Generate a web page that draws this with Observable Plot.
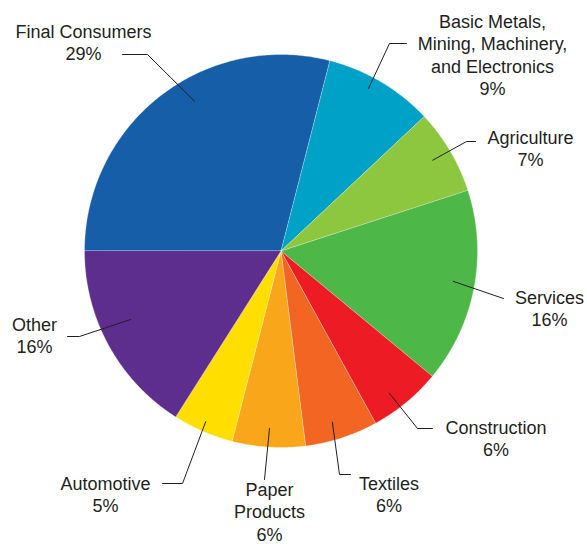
<!DOCTYPE html>
<html>
<head>
<meta charset="utf-8">
<script src="https://cdn.jsdelivr.net/npm/d3@7"></script>
<script src="https://cdn.jsdelivr.net/npm/@observablehq/plot@0.6"></script>
<style>
  html, body { margin: 0; padding: 0; background: #fff; }
  #chart svg { display: block; font-family: "Liberation Sans", Arial, Helvetica, sans-serif; }
</style>
</head>
<body>
<div id="chart"></div>
<script>
// ---- data ----
const categories = [
  "Final Consumers",
  "Basic Metals, Mining, Machinery, and Electronics",
  "Agriculture",
  "Services",
  "Construction",
  "Textiles",
  "Paper Products",
  "Automotive",
  "Other"
];
const shares = [29, 9, 7, 16, 6, 6, 6, 5, 16];
const labelLines = [
  "Final Consumers",
  "Basic Metals,\nMining, Machinery,\nand Electronics",
  "Agriculture",
  "Services",
  "Construction",
  "Textiles",
  "Paper\nProducts",
  "Automotive",
  "Other"
];
const colors = ["#175ea9", "#00a1c6", "#8dc63f", "#4db848", "#ed1c24", "#f26522", "#faa61a", "#ffde00", "#5d2e8e"];

// ---- label layout (annotation placement, in page pixels) ----
const W = 587, H = 544;
const cx = 280.5, cy = 250.5, R = 196.5;
const layout = [
  {lead: [330, 0.88],   pts: [[147, 54], [122, 54]],   text: [83, 34]},
  {lead: [28.3, 0.94],  pts: [[389, 43], [406, 43]],   text: [492, 24]},
  {lead: [59.1, 0.90],  pts: [[466, 141], [475, 141]], text: [530, 140]},
  {lead: [100, 0.89],   pts: [[503, 298]],             text: [549, 300]},
  {lead: [142.7, 0.91], pts: [[417, 428], [432, 428]], text: [495.5, 430]},
  {lead: [163.3, 0.91], pts: [[339, 474], [350, 474]], text: [388.5, 486]},
  {lead: [183.7, 0.905],pts: [[264, 479]],             text: [269, 492]},
  {lead: [203.8, 0.95], pts: [[182, 483], [162, 483]], text: [105, 486]},
  {lead: [245.5, 0.84], pts: [[79, 336], [67, 336]],   text: [34, 327]}
];
const fontSize = 18;
const toU = px => (px - cx) / R;
const toV = py => (cy - py) / R;

// ---- build pie polygons from shares ----
const arcs = d3.pie().sort(null).startAngle(-Math.PI / 2).endAngle(1.5 * Math.PI)(shares);
const slicePts = [];
arcs.forEach((a, i) => {
  const cat = categories[i];
  slicePts.push({cat, x: 0, y: 0});
  const n = Math.max(2, Math.ceil((a.endAngle - a.startAngle) / (Math.PI / 360)));
  for (let k = 0; k <= n; k++) {
    const t = a.startAngle + (a.endAngle - a.startAngle) * k / n;
    slicePts.push({cat, x: Math.sin(t), y: Math.cos(t)});
  }
});

// ---- leader lines ----
const leaderPts = [];
layout.forEach((L, i) => {
  const ang = L.lead[0] * Math.PI / 180;
  leaderPts.push({cat: categories[i], x: L.lead[1] * Math.sin(ang), y: L.lead[1] * Math.cos(ang)});
  L.pts.forEach(p => leaderPts.push({cat: categories[i], x: toU(p[0]), y: toV(p[1])}));
});

// ---- labels ----
const labels = layout.map((L, i) => ({
  text: labelLines[i] + "\n" + shares[i] + "%",
  x: toU(L.text[0]),
  y: toV(L.text[1] - 0.71 * fontSize)
}));

const chart = Plot.plot({
  width: W,
  height: H,
  marginLeft: cx - R,
  marginRight: W - (cx + R),
  marginTop: cy - R,
  marginBottom: H - (cy + R),
  x: {domain: [-1, 1], axis: null},
  y: {domain: [-1, 1], axis: null},
  color: {domain: categories, range: colors},
  marks: [
    Plot.line(slicePts, {x: "x", y: "y", z: "cat", fill: "cat", stroke: "#ffffff", strokeWidth: 0.5, strokeOpacity: 0.6, curve: "linear-closed"}),
    Plot.line(leaderPts, {x: "x", y: "y", z: "cat", stroke: "#231f20", strokeWidth: 1}),
    Plot.text(labels, {x: "x", y: "y", text: "text", textAnchor: "middle", lineAnchor: "top", lineHeight: 1.25, fontSize: fontSize, fill: "#231f20"})
  ]
});
document.getElementById("chart").appendChild(chart);
</script>
</body>
</html>
